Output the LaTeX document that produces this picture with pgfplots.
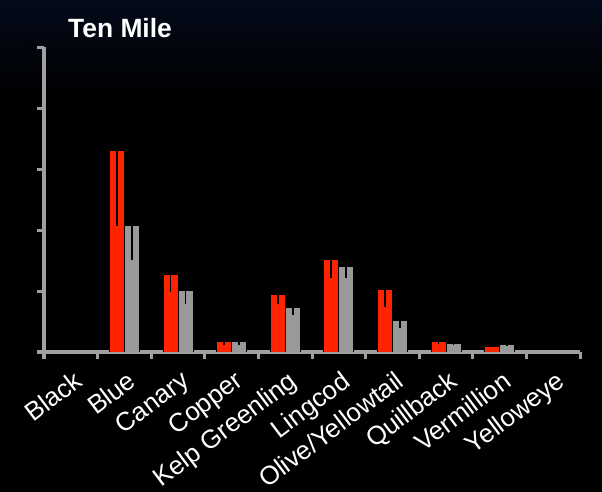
\documentclass[border=0pt]{standalone}
\usepackage{pgfplots}
\pgfplotsset{compat=1.18}
\usepackage{fontspec}
\setmainfont{Liberation Sans}
\definecolor{barred}{RGB}{255,36,0}
\definecolor{bargray}{RGB}{153,153,153}
\definecolor{axgray}{RGB}{160,160,160}
\definecolor{navy}{RGB}{3,10,26}
% Black and Yelloweye are 0 (no bar drawn)
\pgfplotstableread{
x  y     e
1  3.30  1.23
2  1.28  0.29
3  0.17  0.05
4  0.95  0.16
5  1.52  0.31
6  1.02  0.29
7  0.18  0.05
8  0.10  0.02
}\redtab
\pgfplotstableread{
x  y     e
1  2.08  0.57
2  1.01  0.23
3  0.17  0.05
4  0.73  0.12
5  1.40  0.19
6  0.52  0.13
7  0.14  0.03
8  0.125 0.03
}\graytab
\begin{document}
\begin{tikzpicture}
\fill[black] (0,0) rectangle (602bp,492bp);
\shade[top color=navy, bottom color=black] (0,392bp) rectangle (602bp,492bp);
\useasboundingbox (0,0) rectangle (602bp,492bp);
\clip (0,0) rectangle (602bp,492bp);
\begin{axis}[
  at={(44bp,140bp)}, anchor=south west,
  scale only axis, width=536bp, height=305bp,
  ymin=0, ymax=5, xmin=-0.5, xmax=9.5,
  axis x line*=bottom, axis y line*=left,
  axis line style={draw=axgray, line width=3bp},
  tick style={draw=axgray, line width=3bp},
  major tick length=7bp, tick align=outside,
  ytick={0,1,2,3,4,5},
  yticklabel style={text=black, font=\fontsize{20}{20}\selectfont},
  xtick={-0.5,0.5,...,9.5}, xticklabels={},
  extra x ticks={0,1,...,9},
  extra x tick labels={Black,Blue,Canary,Copper,Kelp Greenling,Lingcod,Olive/Yellowtail,Quillback,Vermillion,Yelloweye},
  extra x tick style={major tick length=0pt, tick style={draw=none},
    xticklabel style={rotate=37, anchor=north east, text=white,
      font=\fontsize{26}{26}\selectfont, inner sep=0pt, yshift=-15bp, xshift=-9bp}},
  ybar=0pt, bar width=15bp,
  every axis plot/.append style={draw=black, line width=0.8bp},
]
\addplot[fill=barred, bar shift=-7.5bp, error bars/.cd, y dir=both, y explicit, error mark=none,
  error bar style={draw=black, line width=1.8bp}]
  table[x=x, y=y, y error=e] {\redtab};
\addplot[fill=bargray, bar shift=7.5bp, error bars/.cd, y dir=both, y explicit, error mark=none,
  error bar style={draw=black, line width=1.8bp}]
  table[x=x, y=y, y error=e] {\graytab};
\end{axis}
\node[anchor=west, text=white, font=\bfseries\fontsize{26.5}{26.5}\selectfont, inner sep=0pt] at (68bp,464bp) {Ten Mile};
\end{tikzpicture}
\end{document}
